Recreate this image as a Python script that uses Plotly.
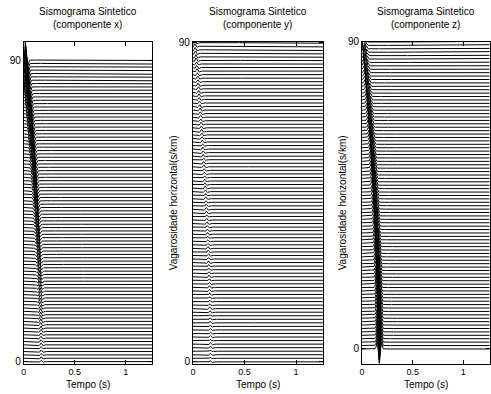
import numpy as np
import plotly.graph_objects as go

# Horizontal slowness of each trace (s/km) and sampling of the time axis
slowness = list(range(0, 91))
dt = 0.005
n_samples = 256
peak_freq = 20.0  # Hz, source wavelet

# Arrival time of the pulse on each trace (s), slowness 0 .. 90
arrival = [
    0.170, 0.170, 0.170, 0.170, 0.169, 0.169, 0.169, 0.168, 0.168, 0.168,
    0.167, 0.166, 0.166, 0.165, 0.165, 0.164, 0.163, 0.162, 0.161, 0.161,
    0.160, 0.159, 0.158, 0.157, 0.156, 0.155, 0.153, 0.152, 0.151, 0.150,
    0.149, 0.147, 0.146, 0.145, 0.143, 0.142, 0.140, 0.139, 0.137, 0.136,
    0.134, 0.132, 0.131, 0.129, 0.127, 0.125, 0.124, 0.122, 0.120, 0.118,
    0.116, 0.114, 0.112, 0.110, 0.108, 0.106, 0.104, 0.102, 0.100, 0.098,
    0.096, 0.093, 0.091, 0.088, 0.086, 0.084, 0.081, 0.079, 0.076, 0.074,
    0.071, 0.069, 0.066, 0.064, 0.061, 0.058, 0.056, 0.053, 0.050, 0.047,
    0.045, 0.042, 0.039, 0.036, 0.033, 0.030, 0.027, 0.024, 0.021, 0.018,
    0.015,
]

# Peak amplitude of the pulse on each component (in trace-spacing units)
amp_x = [
    0.40, 0.45, 0.42, 0.50, 0.48, 0.55, 0.52, 0.60, 0.58, 0.65,
    0.70, 0.68, 0.75, 0.78, 0.80, 0.85, 0.83, 0.90, 0.95, 0.98,
    1.00, 1.05, 1.08, 1.10, 1.18, 1.20, 1.25, 1.30, 1.35, 1.40,
    1.50, 1.52, 1.58, 1.62, 1.70, 1.72, 1.80, 1.85, 1.90, 1.95,
    2.00, 2.05, 2.12, 2.18, 2.22, 2.30, 2.35, 2.40, 2.48, 2.52,
    2.60, 2.65, 2.72, 2.78, 2.82, 2.90, 2.95, 3.02, 3.08, 3.12,
    3.20, 3.26, 3.32, 3.40, 3.45, 3.52, 3.58, 3.65, 3.72, 3.80,
    3.90, 3.95, 4.02, 4.10, 4.18, 4.25, 4.32, 4.40, 4.48, 4.55,
    4.65, 4.72, 4.80, 4.88, 4.95, 5.02, 5.10, 5.18, 5.25, 5.32,
    5.50,
]
amp_y = [
    0.35, 0.30, 0.40, 0.32, 0.45, 0.38, 0.30, 0.42, 0.36, 0.40,
    0.33, 0.45, 0.38, 0.30, 0.42, 0.50, 0.36, 0.40, 0.34, 0.44,
    0.38, 0.46, 0.35, 0.40, 0.48, 0.42, 0.36, 0.44, 0.50, 0.38,
    0.40, 0.46, 0.52, 0.38, 0.44, 0.40, 0.48, 0.42, 0.46, 0.50,
    0.44, 0.40, 0.48, 0.52, 0.46, 0.42, 0.50, 0.44, 0.48, 0.54,
    0.46, 0.50, 0.44, 0.52, 0.48, 0.56, 0.50, 0.46, 0.54, 0.50,
    0.52, 0.48, 0.56, 0.50, 0.54, 0.58, 0.52, 0.56, 0.50, 0.58,
    0.54, 0.60, 0.56, 0.52, 0.58, 0.62, 0.56, 0.60, 0.64, 0.58,
    0.62, 0.60, 0.66, 0.64, 0.60, 0.68, 0.66, 0.70, 0.68, 0.72,
    0.80,
]
amp_z = [
    -4.30, -4.28, -4.30, -4.25, -4.26, -4.22, -4.24, -4.20, -4.21, -4.18,
    -4.20, -4.15, -4.16, -4.12, -4.10, -4.08, -4.08, -4.05, -4.02, -4.00,
    -4.00, -3.98, -3.95, -3.94, -3.90, -3.88, -3.86, -3.82, -3.80, -3.78,
    -3.80, -3.75, -3.72, -3.70, -3.66, -3.64, -3.60, -3.58, -3.55, -3.52,
    -3.50, -3.48, -3.44, -3.42, -3.38, -3.35, -3.32, -3.30, -3.26, -3.24,
    -3.20, -3.18, -3.14, -3.12, -3.08, -3.05, -3.02, -3.00, -2.96, -2.94,
    -2.90, -2.88, -2.84, -2.82, -2.78, -2.75, -2.72, -2.70, -2.66, -2.64,
    -2.60, -2.58, -2.54, -2.52, -2.48, -2.45, -2.42, -2.40, -2.36, -2.34,
    -2.30, -2.28, -2.24, -2.22, -2.18, -2.15, -2.12, -2.10, -2.06, -2.04,
    -2.00,
]

components = ["x", "y", "z"]
amplitudes = [amp_x, amp_y, amp_z]
y_ranges = [[-0.6, 95.5], [-0.5, 90.3], [-4.3, 90.1]]
x_range = [0, 1.26]
show_ylabel = [False, True, True]

FONT = "Liberation Sans, Arial, Helvetica, sans-serif"
W, H = 491, 394
# axes boxes in pixels: (left, right)
boxes = [(21, 150.5), (191.5, 322.5), (362, 490.5)]
top_px, bottom_px = 37.5, 367

time = np.arange(n_samples) * dt
period = n_samples * dt


def ricker(tau):
    a = (np.pi * peak_freq * tau) ** 2
    return (1 - 2 * a) * np.exp(-a)


fig = go.Figure()
for k, (comp, amp) in enumerate(zip(components, amplitudes)):
    xs, ys = [], []
    for p, t0, a in zip(slowness, arrival, amp):
        # circular time shift, as in a frequency-domain synthetic
        tau = (time - t0 + period / 2) % period - period / 2
        trace = p + a * ricker(tau)
        xs.extend(time.tolist() + [None])
        ys.extend(trace.tolist() + [None])
    sfx = "" if k == 0 else str(k + 1)
    fig.add_trace(go.Scatter(
        x=xs, y=ys, mode="lines", xaxis="x" + sfx, yaxis="y" + sfx,
        line=dict(color="black", width=1), showlegend=False,
        hoverinfo="skip",
    ))

layout = dict(
    width=W, height=H, margin=dict(l=0, r=0, t=0, b=0),
    paper_bgcolor="white", plot_bgcolor="white",
    font=dict(family=FONT, size=10, color="black"),
    annotations=[],
)
ydom = [1 - bottom_px / H, 1 - top_px / H]
for k, (l, r) in enumerate(boxes):
    sfx = "" if k == 0 else str(k + 1)
    common = dict(
        showline=True, linecolor="black", linewidth=1, mirror="ticks",
        ticks="inside", ticklen=4, tickcolor="black", tickwidth=1,
        showgrid=False, zeroline=False,
        tickfont=dict(family=FONT, size=10, color="black"),
    )
    layout["xaxis" + sfx] = dict(
        domain=[l / W, r / W], range=x_range, anchor="y" + sfx,
        tickvals=[0, 0.5, 1], ticktext=["0", "0.5", "1"], **common,
    )
    layout["yaxis" + sfx] = dict(
        domain=ydom, range=y_ranges[k], anchor="x" + sfx,
        tickvals=[0, 90], ticktext=["0", "90"], **common,
    )
    layout["xaxis" + sfx]["tickfont"] = dict(family=FONT, size=9,
                                            color="black")
    cx = (l + r) / 2 / W
    layout["annotations"].append(dict(
        text="Sismograma Sintetico<br>(componente %s)" % components[k],
        x=cx, y=1 - 13 / H, xref="paper", yref="paper",
        xanchor="center", yanchor="middle", showarrow=False,
        font=dict(family=FONT, size=10, color="black"),
    ))
    layout["annotations"].append(dict(
        text="Tempo (s)", x=cx, y=-1.5 / H, xref="paper", yref="paper",
        xanchor="center", yanchor="bottom", showarrow=False, borderpad=0,
        font=dict(family=FONT, size=10, color="black"),
    ))
    if show_ylabel[k]:
        layout["annotations"].append(dict(
            text="Vagarosidade horizontal(s/km)", textangle=-90,
            x=(l - 19.5) / W, y=1 - (top_px + bottom_px) / 2 / H,
            xref="paper", yref="paper", xanchor="center", yanchor="middle",
            showarrow=False, font=dict(family=FONT, size=10, color="black"),
        ))

fig.update_layout(**layout)
fig.write_html("out.html")
